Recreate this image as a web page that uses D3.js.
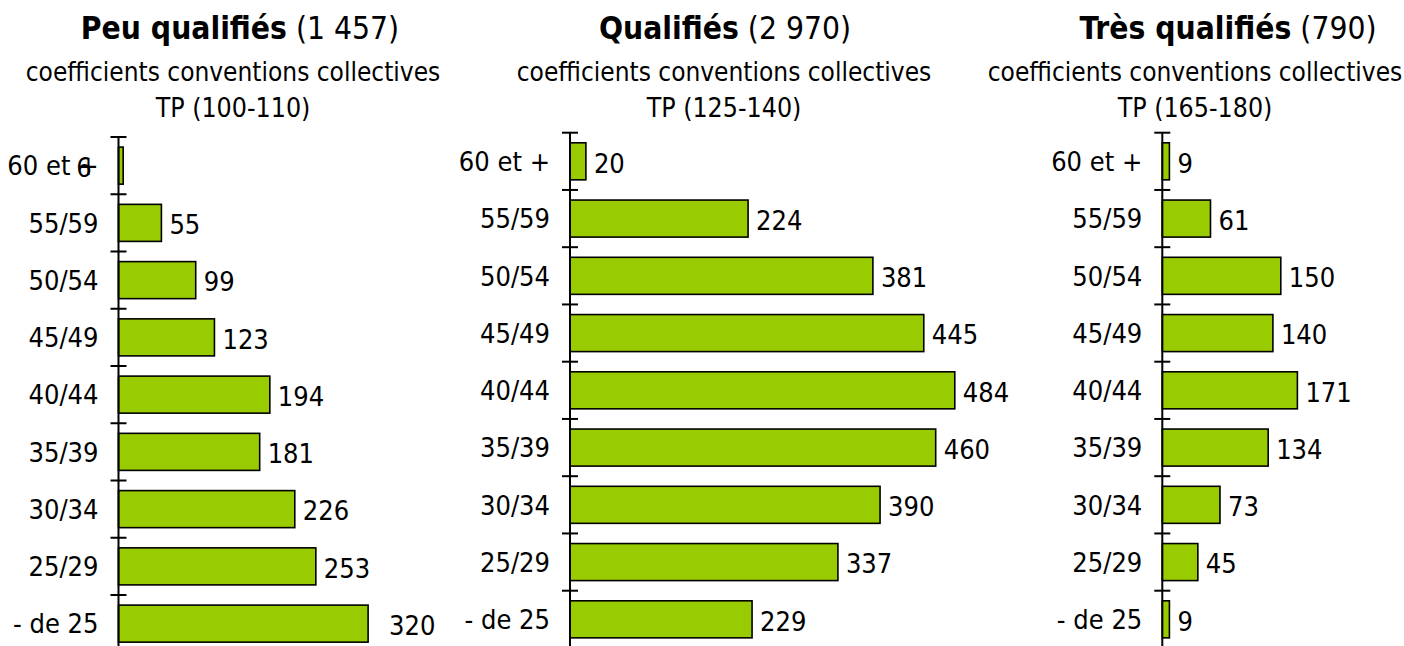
<html>
<head>
	<meta charset="utf-8">
	<script src="https://d3js.org/d3.v7.min.js"></script>
	<style>
		body { margin: 0; background: #fff; }
		text { font-family: "DejaVu Sans Condensed", "DejaVu Sans", sans-serif; fill: #000; }
	</style>
</head>
<body>
	<svg></svg>
</body>
<script type="text/javascript">
	// age bands, top to bottom
	var ages = ["60 et +", "55/59", "50/54", "45/49", "40/44", "35/39", "30/34", "25/29", "- de 25"];
	var peuQualifies = [6, 55, 99, 123, 194, 181, 226, 253, 320];
	var qualifies = [20, 224, 381, 445, 484, 460, 390, 337, 229];
	var tresQualifies = [9, 61, 150, 140, 171, 134, 73, 45, 9];

	var groupNames = ["Peu qualifiés", "Qualifiés", "Très qualifiés"];
	var groupTotals = ["(1 457)", "(2 970)", "(790)"];
	var groupCoefs = ["TP (100-110)", "TP (125-140)", "TP (165-180)"];
	var subtitle = "coefficients conventions collectives";

	var width = 1404;
	var height = 646;

	// layout of each small chart
	var panels = [
		{values: peuQualifies, axisX: 118.5, top: 137, pxPerUnit: 0.78, titleX: 240, subX: 233},
		{values: qualifies, axisX: 570, top: 132.7, pxPerUnit: 0.795, titleX: 725, subX: 724},
		{values: tresQualifies, axisX: 1162.3, top: 132.7, pxPerUnit: 0.79, titleX: 1228, subX: 1195}
	];
	var step = 57.25;
	// the original chart has a couple of labels pushed away from their bar
	var labelNudge = [{"60 et +": -55, "- de 25": 13}, {}, {}];

	var svg = d3.select("svg")
		.attr("width", width)
		.attr("height", height);

	panels.forEach(function(p, k) {
		var g = svg.append("g");

		var y = d3.scaleBand()
			.domain(ages)
			.range([p.top, p.top + step * ages.length])
			.paddingInner(0.353)
			.paddingOuter(0.1765);

		var x = d3.scaleLinear()
			.domain([0, 500])
			.range([p.axisX, p.axisX + 500 * p.pxPerUnit]);

		// titles
		var t = g.append("text")
			.attr("x", p.titleX)
			.attr("y", 39)
			.attr("text-anchor", "middle")
			.style("font-size", "31.5px");
		t.append("tspan").attr("font-weight", "bold").text(groupNames[k]);
		t.append("tspan").text(" " + groupTotals[k]);

		g.append("text")
			.attr("x", p.subX)
			.attr("y", 81)
			.attr("text-anchor", "middle")
			.style("font-size", "26px")
			.text(subtitle);
		g.append("text")
			.attr("x", p.subX)
			.attr("y", 117)
			.attr("text-anchor", "middle")
			.style("font-size", "26.5px")
			.text(groupCoefs[k]);

		// bars
		g.selectAll("rect")
			.data(ages)
			.enter().append("rect")
			.attr("x", x(0))
			.attr("y", function(d) { return y(d); })
			.attr("width", function(d, i) { return x(p.values[i]) - x(0); })
			.attr("height", y.bandwidth())
			.attr("fill", "#99cc00")
			.attr("stroke", "#000")
			.attr("stroke-width", 1.6);

		// axis line and ticks between the bands
		var gap = (y.step() - y.bandwidth()) / 2;
		g.append("line")
			.attr("x1", x(0)).attr("x2", x(0))
			.attr("y1", p.top).attr("y2", height)
			.attr("stroke", "#000")
			.attr("stroke-width", 2);
		g.selectAll(".tick")
			.data(ages)
			.enter().append("line")
			.attr("class", "tick")
			.attr("x1", x(0) - 8).attr("x2", x(0) + 8)
			.attr("y1", function(d) { return y(d) - gap; })
			.attr("y2", function(d) { return y(d) - gap; })
			.attr("stroke", "#000")
			.attr("stroke-width", 2);

		// category labels
		g.selectAll(".cat")
			.data(ages)
			.enter().append("text")
			.attr("class", "cat")
			.attr("x", x(0) - 20)
			.attr("y", function(d) { return y(d) + y.bandwidth() / 2; })
			.attr("dy", "0.36em")
			.attr("text-anchor", "end")
			.style("font-size", "27px")
			.text(function(d) { return d; });

		// value labels
		g.selectAll(".val")
			.data(ages)
			.enter().append("text")
			.attr("class", "val")
			.attr("x", function(d, i) { return x(p.values[i]) + 8 + (labelNudge[k][d] || 0); })
			.attr("y", function(d) { return y(d) + y.bandwidth() / 2; })
			.attr("dy", "0.42em")
			.style("font-size", "27px")
			.text(function(d, i) { return p.values[i]; });
	});
</script>
</html>
